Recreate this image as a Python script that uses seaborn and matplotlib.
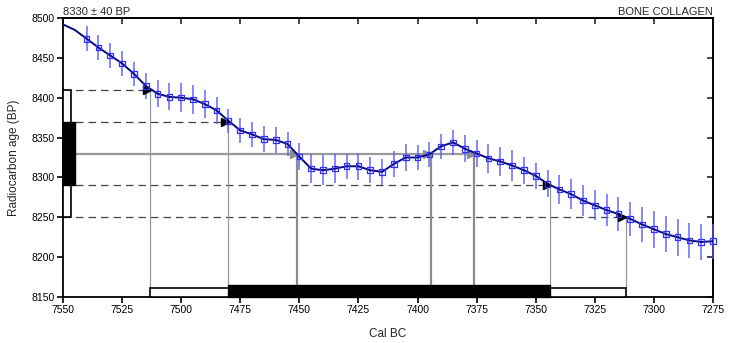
import numpy as np
import pandas as pd
import matplotlib
matplotlib.use("Agg")
import matplotlib.pyplot as plt
from matplotlib.patches import Rectangle
import seaborn as sns

# ---- data ----
curve_years = [7550, 7545, 7540, 7535, 7530, 7525, 7520, 7515, 7510, 7505, 7500,
               7495, 7490, 7485, 7480, 7475, 7470, 7465, 7460, 7455, 7450,
               7445, 7440, 7435, 7430, 7425, 7420, 7415, 7410, 7405, 7400,
               7395, 7390, 7385, 7380, 7375, 7370, 7365, 7360, 7355, 7350,
               7345, 7340, 7335, 7330, 7325, 7320, 7315, 7310, 7305, 7300,
               7295, 7290, 7285, 7280, 7275]
curve_bp = [8492, 8485, 8474, 8463, 8453, 8443, 8430, 8415, 8405, 8401, 8400,
            8398, 8392, 8384, 8371, 8359, 8354, 8348, 8347, 8342, 8326,
            8311, 8309, 8311, 8314, 8314, 8309, 8307, 8317, 8325, 8325,
            8329, 8339, 8344, 8336, 8330, 8324, 8320, 8315, 8309, 8302,
            8292, 8285, 8279, 8271, 8265, 8259, 8254, 8248, 8241, 8235,
            8229, 8225, 8221, 8219, 8220]
curve_err = [0, 0, 16, 16, 16, 16, 15, 16, 17, 17, 18,
             18, 18, 17, 15, 16, 16, 16, 16, 15, 17,
             18, 19, 18, 16, 17, 16, 16, 16, 17, 16,
             16, 16, 16, 17, 17, 18, 18, 19, 17, 16,
             17, 18, 19, 19, 19, 20, 21, 21, 22, 23,
             23, 23, 22, 23, 22]
marker_start = 7540

sample_bp = 8330
sample_sigma = 40
sigma1_years = [7480, 7344]          # 1 sigma range (black bar)
sigma2_years = [7513, 7312]          # 2 sigma range (white bar)
mid_intersections = [7451, 7394.5, 7376]  # curve crossings at 8330

# ---- figure ----
sns.set_theme(style="white")
plt.rcParams['font.family'] = ['Liberation Sans', 'DejaVu Sans']
fig = plt.figure(figsize=(7.37, 3.43), dpi=100)
ax = fig.add_axes([63/737, 1-297/343, (713-63)/737, (297-18)/343])

xmin, xmax = 7550, 7275
ymin, ymax = 8150, 8500

df = pd.DataFrame({"year": curve_years, "bp": curve_bp, "err": curve_err})
dm = df[df.year <= marker_start]

lo1, hi1 = sample_bp - sample_sigma, sample_bp + sample_sigma
lo2, hi2 = sample_bp - 2*sample_sigma, sample_bp + 2*sample_sigma

dash_col = '#444444'
# dashed horizontal lines to the curve crossings
ax.plot([xmin, sigma2_years[0]], [hi2, hi2], ls=(0, (6, 4)), color=dash_col, lw=0.9, zorder=2)
ax.plot([xmin, sigma1_years[0]], [hi1, hi1], ls=(0, (6, 4)), color=dash_col, lw=0.9, zorder=2)
ax.plot([xmin, sigma1_years[1]], [lo1, lo1], ls=(0, (6, 4)), color=dash_col, lw=0.9, zorder=2)
ax.plot([xmin, sigma2_years[1]], [lo2, lo2], ls=(0, (6, 4)), color=dash_col, lw=0.9, zorder=2)

# vertical lines from crossings down to bars
bar2_h = 11
bar1_h = 15
for yr, v in [(sigma2_years[0], hi2), (sigma2_years[1], lo2)]:
    ax.plot([yr, yr], [ymin + bar2_h, v], color='#999999', lw=0.9, zorder=2)
for yr, v in [(sigma1_years[0], hi1), (sigma1_years[1], lo1)]:
    ax.plot([yr, yr], [ymin + bar1_h, v], color='#999999', lw=0.9, zorder=2)
for yr in mid_intersections:
    ax.plot([yr, yr], [ymin + bar1_h, sample_bp], color='#8c8c8c', lw=1.6, zorder=2)

# gray horizontal at measured age
ax.plot([xmin, mid_intersections[-1]], [sample_bp, sample_bp], color='#9a9a9a', lw=1.6, zorder=2)

# arrowheads
for yr, v in [(sigma2_years[0], hi2), (sigma1_years[0], hi1),
              (sigma1_years[1], lo1), (sigma2_years[1], lo2)]:
    ax.plot([yr + 1.3], [v], marker='>', color='black', ms=5.5, zorder=6, clip_on=False)
for yr in mid_intersections:
    ax.plot([yr + 1.3], [sample_bp], marker='>', color='#8c8c8c', ms=5.5, zorder=3)

# error bars
ax.errorbar(dm.year, dm.bp, yerr=dm.err, fmt='none', ecolor='#5a5aff', elinewidth=1.2,
            alpha=0.85, zorder=3, clip_on=False)
# curve
sns.lineplot(data=df, x="year", y="bp", ax=ax, color='#0a0a78', lw=1.4, zorder=5, sort=False)
sns.scatterplot(data=dm, x="year", y="bp", ax=ax, marker='s', s=16, facecolor='none',
                edgecolor='#3030ff', linewidth=0.9, zorder=6, clip_on=False)

# y-axis boxes
ax.add_patch(Rectangle((xmin, lo2), -3.3, hi2 - lo2, facecolor='white', edgecolor='black',
                       lw=1.2, zorder=7, clip_on=False))
ax.add_patch(Rectangle((xmin, lo1), -5.0, hi1 - lo1, facecolor='black', edgecolor='black',
                       lw=1.0, zorder=8, clip_on=False))
# bottom bars
ax.add_patch(Rectangle((sigma2_years[0], ymin), sigma2_years[1] - sigma2_years[0], bar2_h,
                       facecolor='white', edgecolor='black', lw=1.2, zorder=7, clip_on=False))
ax.add_patch(Rectangle((sigma1_years[0], ymin), sigma1_years[1] - sigma1_years[0], bar1_h,
                       facecolor='black', edgecolor='black', lw=1.0, zorder=8, clip_on=False))

ax.set_xlim(xmin, xmax)
ax.set_ylim(ymin, ymax)
ax.set_xticks(np.arange(7550, 7274, -25))
ax.set_yticks(np.arange(8150, 8501, 50))
ax.tick_params(axis='both', direction='out', length=4, width=1.2, labelsize=7.5,
               colors='black', pad=2, bottom=True, left=True)
for sp in ax.spines.values():
    sp.set_color('black')
    sp.set_linewidth(1.3)

top = ax.secondary_xaxis('top')
top.set_xticks(np.arange(7550, 7274, -25))
top.tick_params(direction='in', length=4, width=1.2, labeltop=False)
right = ax.secondary_yaxis('right')
right.set_yticks(np.arange(8150, 8501, 50))
right.tick_params(direction='in', length=4, width=1.2, labelright=False)
for s in (top, right):
    for sp in s.spines.values():
        sp.set_linewidth(1.3)

ax.set_xlabel("Cal BC", fontsize=8.5, labelpad=9)
ax.set_ylabel("Radiocarbon age (BP)", fontsize=8.5, labelpad=8)
ax.text(0.0, 1.005, "8330 \u00b1 40 BP", transform=ax.transAxes, ha='left', va='bottom', fontsize=8)
ax.text(1.0, 1.005, "BONE COLLAGEN", transform=ax.transAxes, ha='right', va='bottom', fontsize=8)

fig.savefig("out.png", dpi=100)
